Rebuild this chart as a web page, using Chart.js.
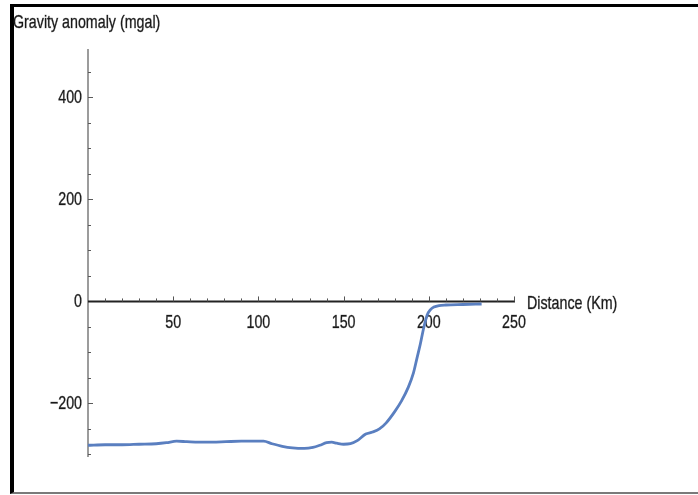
<!DOCTYPE html>
<html>
<head>
<meta charset="utf-8">
<title>Gravity anomaly profile</title>
<script src="https://cdn.jsdelivr.net/npm/chart.js@4.4.1/dist/chart.umd.min.js"></script>
<style>
  html, body { margin: 0; padding: 0; background: #fff; }
  #wrap { position: relative; width: 698px; height: 495px; overflow: hidden; }
  #frame {
    position: absolute; left: 10px; top: 4px; width: 684px; height: 485px;
    border-top: 3px solid #000; border-left: 4px solid #000; border-bottom: 2px solid #7a7a7a;
  }
  canvas { position: absolute; left: 0; top: 0; }
</style>
</head>
<body>
<div id="wrap">
  <div id="frame"></div>
  <canvas id="chart" width="698" height="495"></canvas>
</div>
<script>
// Profile: distance along the line (km) and gravity anomaly (mgal)
const distanceKm = [0, 10, 20, 30, 40, 46, 52, 58, 65, 73, 81, 90, 98, 103, 108, 114, 120, 127, 132, 136,
  140, 143, 146, 150, 154, 158, 163, 167, 171, 175, 180, 184, 188, 191, 193, 195, 197, 199, 201, 203,
  206, 210, 220, 231];
const anomalyMgal = [-282, -281, -281, -280, -279, -277, -274, -275, -276, -276, -275, -274, -274, -274, -279, -284, -287, -288, -286, -282,
  -277, -276, -278, -280, -279, -273, -260, -256, -250, -238, -216, -195, -168, -140, -112, -84, -52, -27, -16, -11,
  -8, -7, -6, -5];

// Axis ticks
const xTickLabels = [50, 100, 150, 200, 250];
const yTickLabels = [-200, 0, 200, 400];
const xMinorStep = 10;
const yMinorStep = 50;

const xTitle = 'Distance (Km)';
const yTitle = 'Gravity anomaly (mgal)';

const FONT = "19px 'Liberation Sans', Arial, sans-serif";
const SQUEEZE = 0.75;

// Condensed text, drawn with a light outline so it reads a little heavier
function squeezedText(ctx, str, x, y, align, baseline) {
  ctx.save();
  ctx.translate(x, y);
  ctx.scale(SQUEEZE, 1);
  ctx.font = FONT;
  ctx.fillStyle = '#1a1a1a';
  ctx.strokeStyle = 'rgba(26,26,26,0.55)';
  ctx.lineWidth = 0.6;
  ctx.textAlign = align;
  ctx.textBaseline = baseline;
  ctx.fillText(str, 0, 0);
  ctx.strokeText(str, 0, 0);
  ctx.restore();
}

const crossAxes = {
  id: 'crossAxes',
  beforeDatasetsDraw(chart) {
    const { ctx, scales: { x, y } } = chart;
    const x0 = x.getPixelForValue(0);
    const y0 = y.getPixelForValue(0);
    ctx.save();

    // vertical axis
    ctx.strokeStyle = '#5a5a5a';
    ctx.lineWidth = 1.2;
    ctx.beginPath();
    ctx.moveTo(x0, y.getPixelForValue(y.max));
    ctx.lineTo(x0, y.getPixelForValue(y.min));
    ctx.stroke();

    // vertical axis ticks (pointing right)
    ctx.lineWidth = 1;
    const yStart = Math.ceil(y.min / yMinorStep) * yMinorStep;
    for (let v = yStart; v <= y.max; v += yMinorStep) {
      if (v === 0) continue;
      const len = yTickLabels.includes(v) ? 5 : 3;
      const py = Math.round(y.getPixelForValue(v)) + 0.5;
      ctx.beginPath();
      ctx.moveTo(x0, py);
      ctx.lineTo(x0 + len, py);
      ctx.stroke();
    }

    // horizontal axis at zero anomaly
    ctx.strokeStyle = '#222';
    ctx.lineWidth = 2;
    ctx.beginPath();
    ctx.moveTo(x0, y0);
    ctx.lineTo(x.getPixelForValue(x.max) + 1, y0);
    ctx.stroke();

    // horizontal axis ticks (pointing up)
    ctx.strokeStyle = '#555';
    ctx.lineWidth = 1;
    for (let v = xMinorStep; v <= x.max; v += xMinorStep) {
      const len = xTickLabels.includes(v) ? 5 : 3;
      const px = Math.round(x.getPixelForValue(v)) + 0.5;
      ctx.beginPath();
      ctx.moveTo(px, y0);
      ctx.lineTo(px, y0 - len);
      ctx.stroke();
    }

    // tick labels
    yTickLabels.forEach(v => {
      const s = v < 0 ? '\u2212' + Math.abs(v) : String(v);
      squeezedText(ctx, s, x0 - 6, y.getPixelForValue(v), 'right', 'middle');
    });
    xTickLabels.forEach(v => {
      squeezedText(ctx, String(v), x.getPixelForValue(v), y0 + 21, 'center', 'middle');
    });

    // axis titles
    squeezedText(ctx, xTitle, x.getPixelForValue(x.max) + 13, y0 + 8, 'left', 'alphabetic');
    squeezedText(ctx, yTitle, 13, 28, 'left', 'alphabetic');

    ctx.restore();
  }
};

const points = distanceKm.map((d, i) => ({ x: d, y: anomalyMgal[i] }));

new Chart(document.getElementById('chart'), {
  type: 'line',
  data: {
    datasets: [{
      data: points,
      borderColor: '#5a7fc0',
      borderWidth: 2.8,
      pointRadius: 0,
      fill: false,
      cubicInterpolationMode: 'monotone'
    }]
  },
  options: {
    responsive: false,
    animation: false,
    devicePixelRatio: 1,
    layout: { padding: { left: 88, right: 184, top: 49, bottom: 38 } },
    plugins: { legend: { display: false }, tooltip: { enabled: false }, title: { display: false } },
    scales: {
      x: { type: 'linear', min: 0, max: 250, display: false },
      y: { type: 'linear', min: -305, max: 495, display: false }
    }
  },
  plugins: [crossAxes]
});
</script>
</body>
</html>
